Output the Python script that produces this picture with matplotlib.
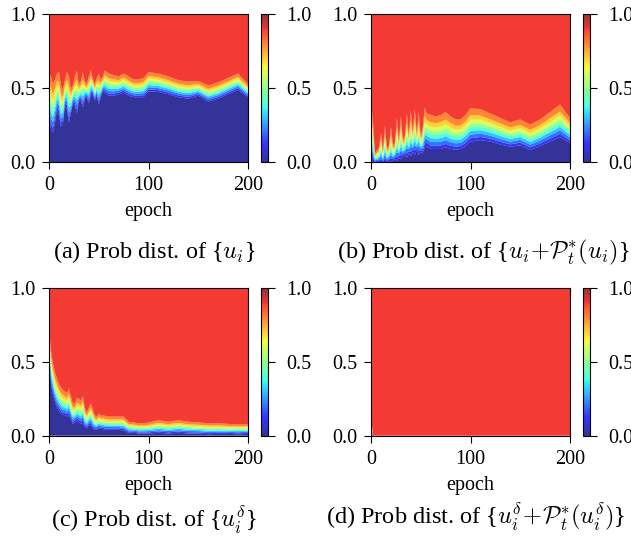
import numpy as np
import matplotlib
matplotlib.use("Agg")
import matplotlib.pyplot as plt
from matplotlib.colors import ListedColormap, Normalize
from matplotlib.cm import ScalarMappable

plt.rcParams['font.family'] = ['Liberation Serif', 'DejaVu Serif']
plt.rcParams['mathtext.fontset'] = 'cm'

# ---------------- data ----------------
epochs = [0, 2, 4, 6, 8, 10, 12, 14, 16, 18, 20, 22, 24, 26, 28, 30,
          32, 34, 36, 38, 40, 42, 44, 46, 48, 50, 52, 54, 56,
          60, 65, 70, 75, 80, 85, 90, 95, 100,
          110, 120, 130, 140, 150, 160, 170, 180, 190, 200]

# cumulative probability of the lowest bin (top of dark-blue band)
a_low = [0.33, 0.22, 0.20, 0.27, 0.35, 0.32, 0.24, 0.26, 0.38, 0.36, 0.27, 0.33, 0.40, 0.38, 0.33, 0.41,
         0.42, 0.37, 0.43, 0.44, 0.40, 0.45, 0.46, 0.42, 0.45, 0.39, 0.44, 0.48, 0.47,
         0.45, 0.45, 0.46, 0.47, 0.45, 0.44, 0.44, 0.44, 0.48,
         0.475, 0.46, 0.44, 0.43, 0.45, 0.41, 0.43, 0.46, 0.49, 0.44]
# cumulative probability below the highest bin (bottom of red band)
a_high = [0.61, 0.58, 0.53, 0.56, 0.60, 0.61, 0.52, 0.49, 0.56, 0.61, 0.58, 0.50, 0.52, 0.58, 0.62, 0.53,
          0.55, 0.61, 0.55, 0.53, 0.58, 0.62, 0.57, 0.53, 0.57, 0.60, 0.56, 0.58, 0.62,
          0.60, 0.59, 0.58, 0.60, 0.58, 0.56, 0.56, 0.57, 0.61,
          0.60, 0.58, 0.555, 0.545, 0.55, 0.52, 0.54, 0.57, 0.60, 0.53]

b_low = [0.02, 0.0, 0.0, 0.0, 0.0, 0.0, 0.0, 0.0, 0.0, 0.01, 0.0, 0.01, 0.02, 0.01, 0.03, 0.02,
         0.04, 0.05, 0.03, 0.06, 0.04, 0.07, 0.05, 0.08, 0.05, 0.07, 0.06, 0.10, 0.11,
         0.09, 0.09, 0.09, 0.10, 0.09, 0.085, 0.09, 0.11, 0.14,
         0.15, 0.14, 0.12, 0.105, 0.115, 0.083, 0.11, 0.14, 0.17, 0.13]
b_high = [0.42, 0.28, 0.06, 0.08, 0.10, 0.20, 0.08, 0.25, 0.10, 0.11, 0.24, 0.12, 0.13, 0.30, 0.15, 0.31,
          0.16, 0.18, 0.33, 0.19, 0.35, 0.21, 0.36, 0.20, 0.34, 0.18, 0.24, 0.37, 0.33,
          0.32, 0.31, 0.32, 0.34, 0.31, 0.29, 0.29, 0.32, 0.365,
          0.36, 0.33, 0.30, 0.27, 0.29, 0.255, 0.29, 0.34, 0.39, 0.30]

c_low = [0.58, 0.35, 0.28, 0.23, 0.19, 0.17, 0.15, 0.14, 0.14, 0.13, 0.14, 0.11, 0.08, 0.09, 0.10, 0.09,
         0.08, 0.09, 0.06, 0.05, 0.07, 0.07, 0.05, 0.04, 0.04, 0.05, 0.045, 0.045, 0.04,
         0.04, 0.04, 0.04, 0.035, 0.02, 0.02, 0.015, 0.015, 0.015,
         0.02, 0.015, 0.02, 0.015, 0.015, 0.01, 0.012, 0.012, 0.01, 0.012]
c_high = [0.75, 0.58, 0.49, 0.43, 0.39, 0.35, 0.33, 0.31, 0.30, 0.29, 0.32, 0.27, 0.22, 0.22, 0.26, 0.25,
          0.24, 0.27, 0.19, 0.16, 0.19, 0.22, 0.18, 0.14, 0.13, 0.15, 0.14, 0.14, 0.135,
          0.13, 0.13, 0.13, 0.13, 0.095, 0.09, 0.085, 0.085, 0.09,
          0.105, 0.095, 0.105, 0.095, 0.09, 0.085, 0.085, 0.08, 0.077, 0.08]

d_low = [0.02] + [0.0] * 47
d_high = [0.15] + [0.0] * 47

# relative share of the eight middle bins within the transition zone
mid_share = [0.10, 0.11, 0.11, 0.11, 0.11, 0.12, 0.13, 0.21]

captions = [r"(a) Prob dist. of {$u_i$}",
            r"(b) Prob dist. of {$u_i\!+\!\mathcal{P}_t^{*}(u_i)$}",
            r"(c) Prob dist. of {$u_i^\delta$}",
            r"(d) Prob dist. of {$u_i^\delta\!+\!\mathcal{P}_t^{*}(u_i^\delta)$}"]

# ---------------- figure ----------------
W, H = 631, 538
fig = plt.figure(figsize=(W / 100, H / 100), dpi=100)

def rect(x0, x1, yt, yb):
    return [x0 / W, 1 - yb / H, (x1 - x0) / W, (yb - yt) / H]

n_bins = 10
jet = plt.get_cmap('jet')
band_colors = [jet(i / n_bins) for i in range(n_bins)]
cols = jet(np.linspace(0, 1, 256))
cols[:, 3] = 0.8
cmap_a = ListedColormap(cols)

panels = [
    (a_low, a_high, rect(49, 248, 14.3, 162.3), rect(261, 268, 14.3, 162.3), (154, 252)),
    (b_low, b_high, rect(371, 570, 14.3, 162.3), rect(583, 590, 14.3, 162.3), (483, 252)),
    (c_low, c_high, rect(49, 248, 288.3, 435.7), rect(261, 268, 288.3, 435.7), (154, 520)),
    (d_low, d_high, rect(371, 570, 287.7, 435.7), rect(583, 590, 287.7, 435.7), (476, 517)),
]

x = np.array(epochs, dtype=float)
share = np.array(mid_share)
for (low, high, r_ax, r_cb, cap_xy), cap in zip(panels, captions):
    lo = np.array(low)
    hi = np.array(high)
    bands = [lo]
    for s in share:
        bands.append((hi - lo) * s)
    bands.append(1 - hi)
    ax = fig.add_axes(r_ax)
    ax.stackplot(x, *bands, colors=band_colors, alpha=0.8, linewidth=0)
    ax.set_xlim(0, 200)
    ax.set_ylim(0, 1)
    ax.set_xticks([0, 100, 200])
    ax.set_yticks([0, 0.5, 1.0])
    ax.set_yticklabels(["0.0", "0.5", "1.0"])
    ax.tick_params(labelsize=14.5, length=5, pad=5)
    ax.set_xlabel("epoch", fontsize=14.5, labelpad=5)
    cax = fig.add_axes(r_cb)
    cb = fig.colorbar(ScalarMappable(norm=Normalize(0, 1), cmap=cmap_a), cax=cax)
    cb.set_ticks([0, 0.5, 1.0])
    cb.set_ticklabels(["0.0", "0.5", "1.0"])
    cb.ax.tick_params(labelsize=14.5, length=5, pad=8)
    fig.text(cap_xy[0] / W, 1 - cap_xy[1] / H, cap, ha='center', va='center', fontsize=17.5)

fig.savefig("out.png", dpi=100)
